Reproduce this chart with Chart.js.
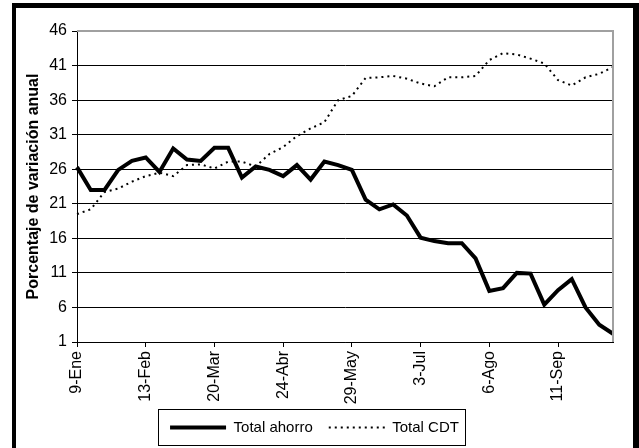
<!DOCTYPE html>
<html>
<head>
<meta charset="utf-8">
<script src="https://cdn.jsdelivr.net/npm/chart.js@4"></script>
<style>
  body { margin: 0; background: #fff; }
  canvas { display: block; }
</style>
</head>
<body>
<canvas id="chart" width="639" height="448"></canvas>
<script>
const weeks = ['9-Ene', '16-Ene', '23-Ene', '30-Ene', '6-Feb', '13-Feb', '20-Feb', '27-Feb', '6-Mar', '13-Mar',
  '20-Mar', '27-Mar', '3-Abr', '10-Abr', '17-Abr', '24-Abr', '1-May', '8-May', '15-May', '22-May',
  '29-May', '5-Jun', '12-Jun', '19-Jun', '26-Jun', '3-Jul', '10-Jul', '17-Jul', '24-Jul', '30-Jul',
  '6-Ago', '13-Ago', '20-Ago', '27-Ago', '4-Sep', '11-Sep', '18-Sep', '25-Sep', '2-Oct', '9-Oct'];

const totalAhorro = [26.3, 23.0, 23.0, 25.9, 27.2, 27.7, 25.6, 29.0, 27.4, 27.2,
  29.1, 29.1, 24.8, 26.4, 25.9, 25.0, 26.6, 24.5, 27.1, 26.6,
  25.9, 21.6, 20.2, 20.9, 19.3, 16.1, 15.6, 15.3, 15.3, 13.1,
  8.4, 8.8, 11.0, 10.9, 6.4, 8.5, 10.1, 6.0, 3.5, 2.2];

const totalCDT = [19.5, 20.2, 22.7, 23.2, 24.2, 25.0, 25.5, 25.0, 26.6, 26.7,
  26.1, 27.1, 27.1, 26.4, 28.2, 29.2, 30.8, 31.9, 32.8, 36.0,
  36.6, 39.2, 39.3, 39.5, 39.1, 38.4, 38.0, 39.3, 39.3, 39.5,
  41.8, 42.8, 42.6, 42.0, 41.3, 38.9, 38.1, 39.3, 39.8, 40.8];

const yMin = 1, yMax = 46, yStep = 5;
const labelEvery = 5;

Chart.defaults.font.family = "'Liberation Sans', Arial, sans-serif";
Chart.defaults.color = '#000';

// white background, grey plot border, legend box and the black outer frame
const framePlugin = {
  id: 'frame',
  beforeDraw(chart) {
    const ctx = chart.ctx;
    ctx.save();
    ctx.fillStyle = '#fff';
    ctx.fillRect(0, 0, chart.width, chart.height);
    ctx.restore();
  },
  afterDraw(chart) {
    const { ctx, chartArea: a } = chart;
    ctx.save();
    ctx.strokeStyle = '#a0a0a0';
    ctx.lineWidth = 2;
    ctx.beginPath();
    ctx.moveTo(a.left, a.top);
    ctx.lineTo(a.right, a.top);
    ctx.lineTo(a.right, a.bottom);
    ctx.stroke();

    const boxes = chart.legend.legendHitBoxes;
    if (boxes && boxes.length) {
      const first = boxes[0], last = boxes[boxes.length - 1];
      const cy = first.top + first.height / 2;
      ctx.strokeStyle = '#000';
      ctx.lineWidth = 1;
      ctx.strokeRect(Math.round(first.left - 12) + 0.5, Math.round(cy - 19) + 0.5,
        Math.round(last.left + last.width - first.left + 18), 36);
    }

    ctx.fillStyle = '#000';
    ctx.fillRect(12, 3, 4, chart.height - 3);
    ctx.fillRect(12, 3, chart.width - 12, 5);
    ctx.fillRect(633, 3, 6, chart.height - 3);
    ctx.restore();
  }
};

new Chart(document.getElementById('chart'), {
  type: 'line',
  data: {
    labels: weeks,
    datasets: [{
      label: 'Total ahorro',
      data: totalAhorro,
      borderColor: '#000',
      backgroundColor: '#000',
      borderWidth: 4,
      pointRadius: 0,
      tension: 0,
      pointStyle: 'line'
    }, {
      label: 'Total CDT',
      data: totalCDT,
      borderColor: '#000',
      backgroundColor: '#000',
      borderWidth: 2,
      borderDash: [2, 4],
      pointRadius: 0,
      tension: 0,
      pointStyle: 'line'
    }]
  },
  options: {
    responsive: false,
    animation: false,
    layout: { padding: { left: 16, right: 26, top: 31, bottom: 3 } },
    plugins: {
      tooltip: { enabled: false },
      legend: {
        position: 'bottom',
        labels: {
          usePointStyle: true,
          pointStyleWidth: 56,
          padding: 16,
          color: '#000',
          font: { size: 15 },
          generateLabels(chart) {
            const items = Chart.defaults.plugins.legend.labels.generateLabels(chart);
            items.forEach(item => {
              const ds = chart.data.datasets[item.datasetIndex];
              item.lineDash = ds.borderDash || [];
              item.lineWidth = ds.borderWidth;
              item.strokeStyle = ds.borderColor;
            });
            return items;
          }
        }
      }
    },
    scales: {
      x: {
        type: 'category',
        offset: false,
        afterFit: scale => { scale.height = 62; },
        grid: {
          drawOnChartArea: false,
          tickLength: 5,
          tickColor: c => (c.index % labelEvery === 0 ? '#000' : 'transparent')
        },
        border: { color: '#000', width: 1 },
        ticks: {
          autoSkip: false,
          maxRotation: 90,
          minRotation: 90,
          padding: 4,
          color: '#000',
          font: { size: 16 },
          callback: function (value, index) {
            return index % labelEvery === 0 ? this.getLabelForValue(value) : '';
          }
        }
      },
      y: {
        min: yMin,
        max: yMax,
        afterFit: scale => { scale.width = 61; },
        grid: {
          color: c => (c.tick && c.tick.value === yMax ? '#a0a0a0' : '#000'),
          tickColor: '#000',
          tickLength: 5,
          lineWidth: 1
        },
        border: { color: '#000', width: 1 },
        ticks: {
          stepSize: yStep,
          padding: 5,
          color: '#000',
          font: { size: 16 }
        },
        title: {
          display: true,
          text: 'Porcentaje de variación anual',
          color: '#000',
          padding: { top: 8, bottom: 0 },
          font: { size: 16, weight: 'bold' }
        }
      }
    }
  },
  plugins: [framePlugin]
});
</script>
</body>
</html>
